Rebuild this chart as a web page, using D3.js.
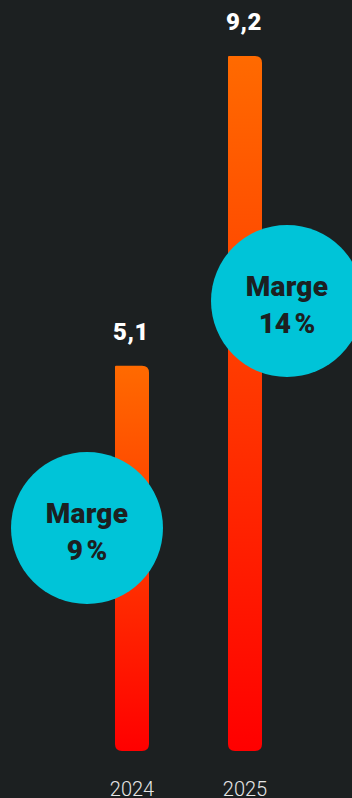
<!DOCTYPE html>
<html>
<head>
<meta charset="utf-8">
<script src="https://cdn.jsdelivr.net/npm/d3@7"></script>
<style>
  html, body { margin: 0; padding: 0; background: #1c2021; }
  svg { display: block; }
</style>
</head>
<body>
<svg id="chart" width="352" height="798"></svg>
<script>
const categories = ["2024", "2025"];
const values = [5.1, 9.2];
const valueLabels = ["5,1", "9,2"];
const margins = ["9\u202F%", "14\u202F%"];
const marginTitle = "Marge";

const W = 352, H = 798;
const svg = d3.select("#chart");
svg.append("rect").attr("width", W).attr("height", H).attr("fill", "#1c2021");

const x = d3.scalePoint().domain(categories).range([132, 245]);
const y = d3.scaleLinear().domain([0, 9.2]).range([751, 56]);
const barW = 34;

const defs = svg.append("defs");
const grad = defs.append("linearGradient").attr("id", "barGrad")
  .attr("x1", 0).attr("y1", 0).attr("x2", 0).attr("y2", 1);
grad.append("stop").attr("offset", "0%").attr("stop-color", "#ff6a00");
grad.append("stop").attr("offset", "100%").attr("stop-color", "#ff0000");

function barPath(x0, y0, w, h, rtl, rtr, rb) {
  const x1 = x0 + w, y1 = y0 + h;
  return `M${x0},${y0 + rtl}
    Q${x0},${y0} ${x0 + rtl},${y0}
    L${x1 - rtr},${y0}
    Q${x1},${y0} ${x1},${y0 + rtr}
    L${x1},${y1 - rb}
    Q${x1},${y1} ${x1 - rb},${y1}
    L${x0 + rb},${y1}
    Q${x0},${y1} ${x0},${y1 - rb} Z`;
}

const data = categories.map((c, i) => ({ c, v: values[i], label: valueLabels[i], m: margins[i] }));

svg.selectAll("path.bar").data(data).join("path")
  .attr("class", "bar")
  .attr("fill", "url(#barGrad)")
  .attr("d", d => barPath(x(d.c) - barW / 2, y(d.v), barW, y(0) - y(d.v), 1, 7, 7));

svg.selectAll("text.val").data(data).join("text")
  .attr("class", "val")
  .attr("x", d => x(d.c) - 1)
  .attr("y", d => y(d.v) - 26)
  .attr("text-anchor", "middle")
  .attr("fill", "#ffffff")
  .attr("font-family", "Roboto, sans-serif")
  .attr("font-weight", 900)
  .attr("font-size", 24)
  .attr("letter-spacing", 0.5)
  .text(d => d.label);

svg.selectAll("text.year").data(data).join("text")
  .attr("class", "year")
  .attr("x", d => x(d.c))
  .attr("y", 796)
  .attr("text-anchor", "middle")
  .attr("fill", "#e6e6e6")
  .attr("font-family", "Roboto, sans-serif")
  .attr("font-weight", 300)
  .attr("font-size", 20)
  .text(d => d.c);

// margin bubbles
const bubbleOffsets = [{ dx: -45, cy: 528 }, { dx: 42, cy: 301 }];
const r = 76;
const g = svg.selectAll("g.bubble").data(data).join("g")
  .attr("class", "bubble")
  .attr("transform", (d, i) => `translate(${x(d.c) + bubbleOffsets[i].dx},${bubbleOffsets[i].cy})`);
g.append("circle").attr("r", r).attr("fill", "#00c4d8");
g.append("text")
  .attr("y", -5)
  .attr("text-anchor", "middle")
  .attr("fill", "#1c2021")
  .attr("font-family", "Roboto, sans-serif")
  .attr("font-weight", 900)
  .attr("font-size", 28)
  .attr("letter-spacing", 0.3)
  .text(marginTitle);
g.append("text")
  .attr("y", 32)
  .attr("text-anchor", "middle")
  .attr("fill", "#1c2021")
  .attr("font-family", "Roboto, sans-serif")
  .attr("font-weight", 900)
  .attr("font-size", 28)
  .text(d => d.m);
</script>
</body>
</html>
